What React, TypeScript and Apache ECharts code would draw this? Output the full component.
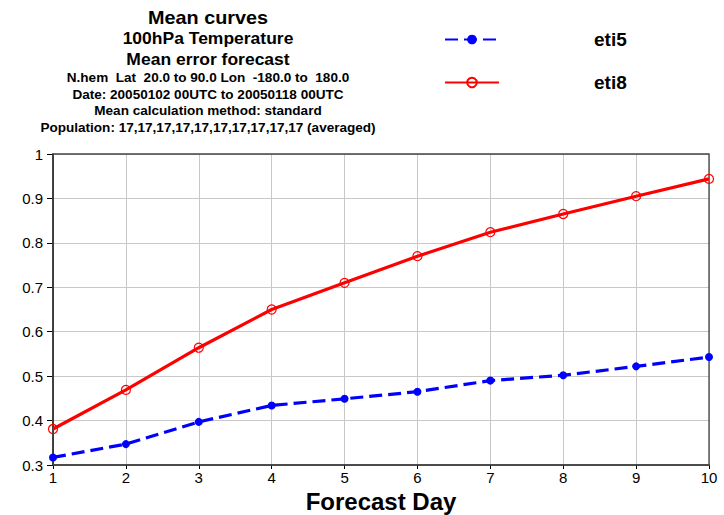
import React, { useEffect, useRef } from "react";
import * as echarts from "echarts";

const days = [1, 2, 3, 4, 5, 6, 7, 8, 9, 10];
const eti5 = [0.317, 0.347, 0.397, 0.434, 0.449, 0.465, 0.49, 0.502, 0.522, 0.543];
const eti8 = [0.381, 0.469, 0.564, 0.65, 0.71, 0.77, 0.824, 0.865, 0.905, 0.944];
const titleLines = [
  "Mean curves",
  "100hPa Temperature",
  "Mean error forecast",
  "N.hem  Lat  20.0 to 90.0 Lon  -180.0 to  180.0",
  "Date: 20050102 00UTC to 20050118 00UTC",
  "Mean calculation method: standard",
  "Population: 17,17,17,17,17,17,17,17,17,17 (averaged)",
];

const FONT = "'Liberation Sans', Arial, sans-serif";

export default function App() {
  const ref = useRef<HTMLDivElement>(null);
  useEffect(() => {
    if (!ref.current) return;
    const chart = echarts.init(ref.current, undefined, { renderer: "svg" });
    const sizes = [18, 16.5, 16.5, 12, 12, 12, 12];
    const scales = [1.1, 1.06, 1.06, 1.13, 1.13, 1.13, 1.13];
    const centers = [18, 39, 60, 78, 94.5, 111, 127.5];
    const titleGraphics = titleLines.map((t, i) => ({
      type: "text",
      x: 208,
      y: centers[i],
      scaleX: scales[i],
      silent: true,
      style: {
        text: t,
        x: 0,
        y: 0,
        align: "center",
        verticalAlign: "middle",
        font: `bold ${sizes[i]}px ${FONT}`,
        fill: "#000",
      },
    }));
    chart.setOption({
      animation: false,
      backgroundColor: "#fff",
      legend: {
        orient: "vertical",
        left: 439,
        top: 25,
        itemWidth: 54,
        itemHeight: 12,
        itemGap: 24,
        data: ["eti5", "eti8"],
        textStyle: { fontFamily: FONT, fontWeight: "bold", fontSize: 19, color: "#000", padding: [3, 0, 0, 90] },
      },
      grid: { left: 53, right: 15, top: 154, bottom: 50, containLabel: false, outerBoundsMode: "none" },
      xAxis: {
        type: "value",
        min: 1,
        max: 10,
        interval: 1,
        name: "Forecast Day",
        nameLocation: "middle",
        nameGap: 20,
        nameTextStyle: { fontFamily: FONT, fontWeight: "bold", fontSize: 24, color: "#000" },
        axisLine: { show: true, onZero: false, lineStyle: { color: "#333", width: 1.5 } },
        axisTick: { show: true, length: 4, lineStyle: { color: "#000" } },
        axisLabel: { fontFamily: FONT, fontSize: 15, color: "#000", margin: 5 },
        splitLine: { show: true, lineStyle: { color: "#c8c8c8", width: 1 } },
      },
      yAxis: {
        type: "value",
        min: 0.3,
        max: 1,
        interval: 0.1,
        axisLine: { show: true, onZero: false, lineStyle: { color: "#000", width: 1.5 } },
        axisTick: { show: true, length: 6, lineStyle: { color: "#000" } },
        axisLabel: {
          fontFamily: FONT,
          fontSize: 15,
          color: "#000",
          margin: 10,
          formatter: (v: number) => String(Math.round(v * 10) / 10),
        },
        splitLine: { show: true, lineStyle: { color: "#c8c8c8", width: 1 } },
      },
      graphic: [
        ...titleGraphics,
        {
          type: "rect",
          shape: { x: 53, y: 154, width: 656, height: 311 },
          style: { fill: "none", stroke: "#444", lineWidth: 1.3 },
          silent: true,
          z: 1,
        },
      ],
      series: [
        {
          name: "eti5",
          type: "line",
          data: days.map((d, i) => [d, eti5[i]]),
          symbol: "circle",
          symbolSize: 8,
          showSymbol: true,
          color: "#0000ff",
          itemStyle: { color: "#0000ff" },
          lineStyle: { color: "#0000ff", width: 3.2, type: [13, 6] },
          z: 3,
        },
        {
          name: "eti8",
          type: "line",
          data: days.map((d, i) => [d, eti8[i]]),
          symbol: "circle",
          symbolSize: 9,
          showSymbol: true,
          color: "#ff0000",
          itemStyle: { color: "rgba(255,255,255,0)", borderColor: "#ff0000", borderWidth: 1.2 },
          lineStyle: { color: "#ff0000", width: 3.2 },
          z: 3,
        },
      ],
    });
    return () => chart.dispose();
  }, []);
  return <div ref={ref} style={{ width: 724, height: 515, position: "absolute", left: 0, top: 0 }} />;
}
